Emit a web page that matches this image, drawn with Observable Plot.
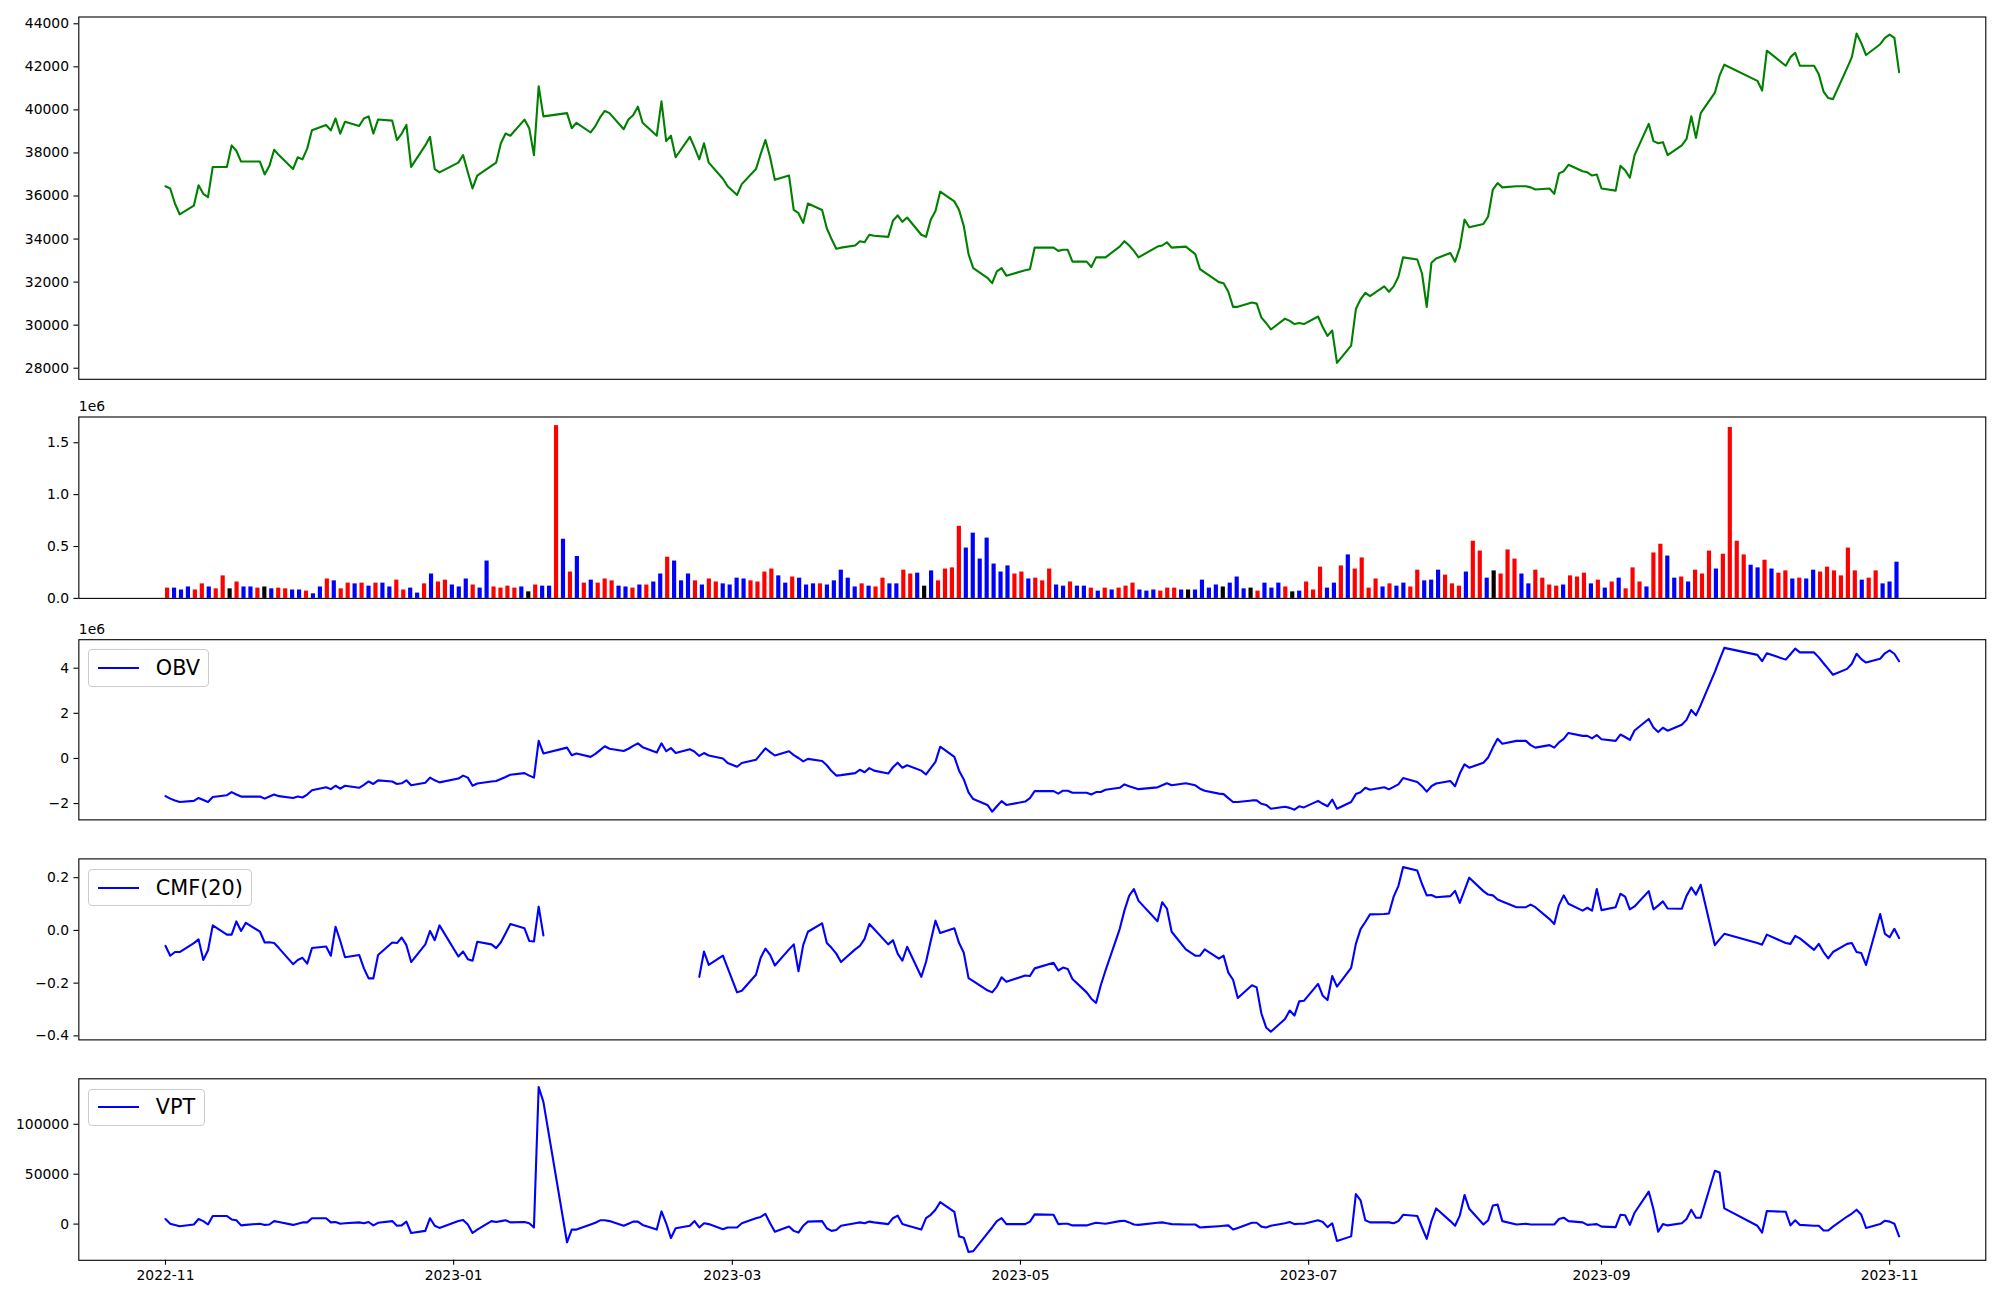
<!DOCTYPE html>
<html><head><meta charset="utf-8">
<script src="https://cdn.jsdelivr.net/npm/d3@7"></script>
<script src="https://cdn.jsdelivr.net/npm/@observablehq/plot@0.6"></script>
<style>
html,body{margin:0;padding:0;background:#fff;}
#fig{position:relative;width:2000px;height:1300px;background:#fff;font-family:"DejaVu Sans",sans-serif;}
.legend{position:absolute;left:88.3px;height:37.4px;box-sizing:border-box;border:1.1px solid #cccccc;border-radius:4px;background:rgba(255,255,255,0.8);display:flex;align-items:center;padding:0 8.3px;font-size:20.8px;color:#000;font-family:"DejaVu Sans",sans-serif;}
.legend svg{margin-right:16.6px;display:block;}
</style></head><body><div id="fig"></div>
<script>
// ---- trading days (x categories) ----
const tradingDays = (
"2022-11-01 2022-11-02 2022-11-03 2022-11-04 2022-11-07 2022-11-08 2022-11-09 2022-11-10 2022-11-11 2022-11-14 2022-11-15 2022-11-16 2022-11-17 2022-11-18 2022-11-21 2022-11-22 2022-11-23 2022-11-24 2022-11-25 2022-11-28 2022-11-29 2022-11-30 " +
"2022-12-01 2022-12-02 2022-12-05 2022-12-06 2022-12-07 2022-12-08 2022-12-09 2022-12-12 2022-12-13 2022-12-14 2022-12-15 2022-12-16 2022-12-19 2022-12-20 2022-12-21 2022-12-22 2022-12-23 2022-12-26 2022-12-27 2022-12-28 2022-12-29 " +
"2023-01-02 2023-01-03 2023-01-04 2023-01-05 2023-01-06 2023-01-09 2023-01-10 2023-01-11 2023-01-12 2023-01-13 2023-01-16 2023-01-17 2023-01-18 2023-01-19 2023-01-20 2023-01-25 2023-01-26 2023-01-27 2023-01-30 2023-01-31 " +
"2023-02-01 2023-02-02 2023-02-03 2023-02-06 2023-02-07 2023-02-08 2023-02-09 2023-02-10 2023-02-13 2023-02-14 2023-02-15 2023-02-16 2023-02-17 2023-02-20 2023-02-21 2023-02-22 2023-02-23 2023-02-24 2023-02-27 2023-02-28 " +
"2023-03-02 2023-03-03 2023-03-06 2023-03-07 2023-03-08 2023-03-09 2023-03-10 2023-03-13 2023-03-14 2023-03-15 2023-03-16 2023-03-17 2023-03-20 2023-03-21 2023-03-22 2023-03-23 2023-03-24 2023-03-27 2023-03-28 2023-03-29 2023-03-30 2023-03-31 " +
"2023-04-03 2023-04-04 2023-04-05 2023-04-06 2023-04-07 2023-04-10 2023-04-11 2023-04-12 2023-04-13 2023-04-14 2023-04-17 2023-04-18 2023-04-19 2023-04-20 2023-04-21 2023-04-24 2023-04-25 2023-04-26 2023-04-27 2023-04-28 " +
"2023-05-02 2023-05-03 2023-05-04 2023-05-08 2023-05-09 2023-05-10 2023-05-11 2023-05-12 2023-05-15 2023-05-16 2023-05-17 2023-05-18 2023-05-19 2023-05-22 2023-05-23 2023-05-24 2023-05-25 2023-05-26 2023-05-30 2023-05-31 " +
"2023-06-01 2023-06-02 2023-06-05 2023-06-07 2023-06-08 2023-06-09 2023-06-12 2023-06-13 2023-06-14 2023-06-15 2023-06-16 2023-06-19 2023-06-20 2023-06-21 2023-06-22 2023-06-23 2023-06-26 2023-06-27 2023-06-28 2023-06-29 2023-06-30 " +
"2023-07-03 2023-07-04 2023-07-05 2023-07-06 2023-07-07 2023-07-10 2023-07-11 2023-07-12 2023-07-13 2023-07-14 2023-07-17 2023-07-18 2023-07-19 2023-07-20 2023-07-21 2023-07-24 2023-07-25 2023-07-26 2023-07-27 2023-07-28 2023-07-31 " +
"2023-08-01 2023-08-02 2023-08-03 2023-08-04 2023-08-07 2023-08-08 2023-08-09 2023-08-10 2023-08-11 2023-08-14 2023-08-16 2023-08-17 2023-08-18 2023-08-21 2023-08-22 2023-08-23 2023-08-24 2023-08-25 2023-08-28 2023-08-29 2023-08-30 2023-08-31 " +
"2023-09-01 2023-09-04 2023-09-05 2023-09-06 2023-09-07 2023-09-08 2023-09-11 2023-09-12 2023-09-13 2023-09-14 2023-09-15 2023-09-18 2023-09-19 2023-09-20 2023-09-21 2023-09-22 2023-09-25 2023-09-26 2023-09-27 " +
"2023-10-04 2023-10-05 2023-10-06 2023-10-10 2023-10-11 2023-10-12 2023-10-13 2023-10-16 2023-10-17 2023-10-18 2023-10-19 2023-10-20 2023-10-23 2023-10-24 2023-10-25 2023-10-26 2023-10-27 2023-10-30 2023-10-31 " +
"2023-11-01 2023-11-02 2023-11-03").split(" ");

// ---- closing price ----
const closePrice = [
36450,36350,35650,35150,35550,36500,36100,35950,37350,37350,38350,38100,37600,37600,37600,37000,37400,38150,37900,37250,37800,37700,
38200,39050,39300,39050,39600,38900,39450,39250,39600,39700,38900,39550,39500,38600,38900,39300,37350,38350,38750,37250,37100,
37550,37900,37100,36350,36950,37400,37550,38450,38900,38800,39550,39150,37900,41100,39700,39850,39150,39400,38950,39250,
39650,39950,39850,39100,39550,39750,40150,39400,38800,40400,38550,38800,37800,38750,38250,37700,38450,37550,36800,36450,
36050,36550,37250,37950,38600,37800,36750,36950,35350,35200,34750,35650,35350,34500,34000,33550,33600,33700,33900,33850,34200,34150,
34100,34850,35100,34800,35000,34200,34100,34900,35300,36200,35750,35350,34600,33300,32650,32200,31950,32500,32650,32300,
32550,32600,33600,33600,33450,33500,33500,32950,32950,32700,33150,33150,33150,33650,33900,33700,33450,33150,33650,33700,
33850,33600,33650,33300,32600,32450,32000,31950,31550,30850,30850,31050,31000,30350,30100,29800,30300,30200,30050,30100,30050,
30400,29900,29500,29750,28250,29050,30750,31200,31500,31350,31800,31550,31800,32250,33150,33050,32400,30850,32900,33100,33350,
32950,33600,34900,34550,34700,35050,36300,36600,36400,36450,36450,36400,36300,36350,36100,37050,37150,37450,37150,37100,36950,37000,
36350,36250,37400,37200,36850,37900,39350,38550,38450,38500,37900,38350,38650,39700,38700,39850,40800,41600,42100,
41350,40900,42750,42050,42450,42650,42050,42050,41650,40850,40550,40500,41950,42450,43550,43100,42550,43050,43350,
43500,43350,41750];

// ---- volume (millions) and bar colour (r = up, b = down, k = unchanged) ----
const volumeM = [
0.099,0.099,0.081,0.11,0.081,0.14,0.11,0.092,0.217,0.092,
0.158,0.11,0.11,0.099,0.11,0.092,0.099,0.092,0.081,0.081,
0.07,0.044,0.11,0.187,0.169,0.092,0.147,0.14,0.147,0.118,
0.147,0.147,0.11,0.176,0.081,0.099,0.051,0.14,0.235,0.158,
0.176,0.129,0.11,0.187,0.129,0.099,0.36,0.11,0.099,0.118,
0.099,0.11,0.063,0.129,0.118,0.118,1.665,0.57,0.254,0.404,
0.147,0.176,0.147,0.187,0.169,0.118,0.11,0.099,0.129,0.129,
0.158,0.235,0.397,0.36,0.169,0.235,0.169,0.129,0.187,0.158,
0.14,0.129,0.195,0.187,0.169,0.158,0.254,0.283,0.217,0.147,
0.206,0.195,0.129,0.14,0.14,0.129,0.169,0.272,0.195,0.11,
0.14,0.118,0.11,0.195,0.14,0.14,0.272,0.235,0.243,0.118,
0.265,0.169,0.283,0.294,0.695,0.485,0.629,0.379,0.581,0.331,
0.254,0.313,0.235,0.254,0.187,0.195,0.169,0.283,0.129,0.118,
0.158,0.118,0.118,0.099,0.07,0.099,0.081,0.099,0.118,0.147,
0.081,0.07,0.081,0.07,0.099,0.099,0.081,0.081,0.081,0.176,
0.099,0.129,0.11,0.147,0.206,0.092,0.099,0.07,0.147,0.099,
0.147,0.11,0.063,0.07,0.158,0.081,0.301,0.099,0.147,0.313,
0.419,0.283,0.39,0.099,0.187,0.11,0.14,0.118,0.147,0.11,
0.272,0.169,0.176,0.272,0.224,0.14,0.118,0.254,0.551,0.456,
0.195,0.265,0.235,0.467,0.379,0.235,0.14,0.272,0.195,0.129,
0.118,0.129,0.217,0.206,0.243,0.14,0.176,0.099,0.158,0.195,
0.092,0.294,0.158,0.11,0.438,0.522,0.408,0.195,0.206,0.158,
0.272,0.235,0.456,0.283,0.426,1.647,0.551,0.419,0.32,0.294,
0.368,0.283,0.243,0.265,0.187,0.195,0.187,0.272,0.254,0.301,
0.265,0.217,0.485,0.265,0.176,0.195,0.265,0.14,0.158,0.349];
const barColor = (
"rbbbrrbrrk" + "rbbrkbrrbb" + "rbbrbrrbrb" + "rbbrrbbrbr" + "rbbbrbbrrr" +
"rbkrbbrbrb" + "rbrrrbbrbr" + "bbrbbbrbrr" + "bbbbrrrrbb" + "rbbbrbbbbb" +
"rbrrbbrrbk" + "brrrrbbbbb" + "bbrrbrrrbb" + "rbbrbrbrrr" + "bbbrrrbkbb" +
"bbkbbbkrbb" + "brkbrrrbbr" + "brrrrbrbbr" + "rbbbrrrbrr" + "bkrrrbbrrr" +
"rbrrrbrbrb" + "rrrbrrbbrb" + "rrrbrrrrbb" + "rbrrbrbbrr" + "rrrrbrrbbb").split("");
const barPalette = {r: "#ff0000", b: "#0000ff", k: "#000000"};

// ---- OBV (millions) ----
const obvM = [
-1.67,-1.78,-1.86,-1.93,-1.88,-1.75,-1.84,-1.93,-1.71,-1.63,-1.49,-1.60,-1.69,-1.69,-1.69,-1.78,-1.69,-1.60,-1.67,-1.75,-1.69,-1.73,
-1.60,-1.41,-1.28,-1.36,-1.21,-1.34,-1.21,-1.30,-1.17,-1.02,-1.13,-0.97,-1.02,-1.13,-1.10,-0.97,-1.19,-1.08,-0.85,-0.97,-1.06,
-0.89,-0.76,-0.85,-1.21,-1.11,-1.02,-1.00,-0.91,-0.82,-0.72,-0.65,-0.76,-0.85,0.78,0.22,0.48,0.14,0.22,0.07,0.20,
0.37,0.54,0.43,0.33,0.43,0.56,0.67,0.50,0.26,0.67,0.32,0.46,0.24,0.41,0.30,0.11,0.24,0.13,0.00,-0.20,
-0.37,-0.20,-0.06,0.19,0.45,0.28,0.13,0.32,0.15,0.02,-0.13,-0.02,-0.11,-0.30,-0.56,-0.76,-0.74,-0.65,-0.50,-0.61,-0.43,-0.54,
-0.67,-0.39,-0.19,-0.41,-0.30,-0.54,-0.71,-0.43,-0.15,0.52,0.07,-0.54,-0.93,-1.50,-1.80,-2.06,-2.36,-2.12,-1.89,-2.06,
-1.91,-1.76,-1.45,-1.45,-1.56,-1.43,-1.43,-1.52,-1.52,-1.60,-1.49,-1.49,-1.39,-1.30,-1.15,-1.23,-1.30,-1.36,-1.28,-1.19,
-1.10,-1.19,-1.10,-1.19,-1.34,-1.43,-1.56,-1.58,-1.76,-1.93,-1.93,-1.86,-1.86,-2.01,-2.06,-2.23,-2.14,-2.19,-2.27,-2.12,-2.17,
-1.88,-2.01,-2.12,-1.82,-2.23,-1.93,-1.58,-1.50,-1.30,-1.39,-1.28,-1.37,-1.26,-1.15,-0.87,-1.04,-1.23,-1.47,-1.23,-1.11,-1.00,
-1.23,-0.67,-0.26,-0.41,-0.19,0.04,0.48,0.87,0.65,0.78,0.78,0.59,0.48,0.59,0.48,0.71,0.87,1.13,1.00,1.00,0.89,1.04,
0.85,0.78,1.06,0.95,0.82,1.24,1.75,1.37,1.17,1.36,1.23,1.49,1.71,2.15,1.91,2.36,3.84,4.38,4.90,
4.59,4.31,4.66,4.38,4.62,4.87,4.70,4.70,4.48,4.22,3.97,3.71,3.97,4.20,4.64,4.40,4.25,4.42,4.66,
4.79,4.64,4.31];

// ---- CMF(20) (null = not drawn) ----
const cmf20 = [
-0.059,-0.096,-0.082,-0.082,-0.048,-0.034,-0.112,-0.075,0.019,-0.016,-0.016,0.034,-0.002,0.029,-0.005,-0.046,-0.045,-0.048,-0.067,-0.128,-0.112,-0.104,
-0.126,-0.067,-0.061,-0.096,0.014,-0.040,-0.102,-0.093,-0.144,-0.182,-0.182,-0.093,-0.046,-0.048,-0.027,-0.056,-0.120,-0.053,-0.002,-0.037,0.019,
-0.099,-0.080,-0.109,-0.115,-0.043,-0.053,-0.067,-0.045,-0.011,0.024,0.008,-0.040,-0.042,0.090,-0.019,null,null,null,null,null,
null,null,null,null,null,null,null,null,null,null,null,null,null,null,null,-0.176,-0.080,-0.131,-0.096,-0.142,
-0.235,-0.229,-0.168,-0.104,-0.069,-0.093,-0.133,-0.072,-0.053,-0.155,-0.056,-0.005,0.027,-0.048,-0.066,-0.088,-0.120,-0.072,-0.059,-0.032,0.024,0.005,
-0.053,-0.037,-0.088,-0.115,-0.062,-0.176,-0.120,-0.040,0.037,-0.010,0.008,-0.048,-0.085,-0.181,-0.192,-0.227,-0.235,-0.213,-0.178,-0.195,
-0.171,-0.173,-0.144,-0.123,-0.152,-0.141,-0.146,-0.184,-0.235,-0.259,-0.275,-0.208,-0.152,0.005,0.075,0.131,0.157,0.112,0.035,0.107,
0.083,-0.005,-0.072,-0.096,-0.096,-0.072,-0.107,-0.096,-0.160,-0.187,-0.256,-0.208,-0.216,-0.315,-0.368,-0.384,-0.336,-0.304,-0.323,-0.269,-0.267,
-0.203,-0.248,-0.264,-0.173,-0.213,-0.142,-0.051,0.005,0.032,0.061,0.062,0.064,0.128,0.168,0.240,0.227,0.176,0.133,0.134,0.126,0.130,
0.150,0.104,0.152,0.200,0.149,0.136,0.133,0.117,0.110,0.088,0.088,0.098,0.088,0.043,0.024,0.096,0.133,0.101,0.075,0.086,0.075,0.157,
0.077,0.088,0.139,0.128,0.080,0.091,0.149,0.080,0.094,0.110,0.083,0.082,0.131,0.163,0.136,0.173,-0.056,-0.034,-0.013,
-0.048,-0.054,-0.016,-0.048,-0.051,-0.021,-0.030,-0.074,-0.051,-0.082,-0.106,-0.082,-0.051,-0.048,-0.082,-0.086,-0.131,0.062,-0.013,
-0.026,0.006,-0.029];

// ---- VPT ----
const vpt = [
5100,400,-800,-2100,-400,5100,3000,-400,8100,8100,4700,3800,-1300,-800,400,-800,-400,3000,2100,-800,400,1700,
1700,5900,5900,1700,2100,400,800,1700,800,2100,-1300,1300,3000,-1700,-1300,2500,-8900,-6800,5900,-1700,-3800,
3000,4200,-400,-8900,-5500,3000,2100,3000,3800,1700,2100,800,-3400,137300,122400,-18200,-5500,-5500,-400,1300,
3800,3800,3000,-1700,400,2500,2500,-800,-5500,12700,800,-14000,-4200,-1700,3000,-3400,800,0,-5100,-3400,
-3400,800,5900,7200,10200,800,-7600,-2500,-6800,-8500,-1700,2500,3000,-4200,-6800,-5900,-1700,800,1700,800,2500,1700,
0,5900,8500,0,-1300,-5500,5900,9300,14400,22000,12300,-12300,-13600,-28000,-27100,-9300,-3400,3000,5900,0,
0,2500,9700,9300,0,400,400,-1300,-1300,0,1300,800,400,3000,3400,1700,-400,-800,1300,1700,
800,0,-400,-400,-3400,-3000,-2100,-1700,-1300,-5500,-3800,1300,1300,-2500,-3400,-1700,800,2100,0,400,400,
3800,2100,-3000,800,-16900,-12300,30100,23700,3800,1700,1700,1700,800,3000,9300,8100,-3400,-14800,3000,15700,3000,
-1700,8500,29200,15300,-400,3800,18600,19500,3000,-400,400,-400,-400,-400,-400,5100,6400,3000,1700,-800,-400,0,
-2500,-3000,9300,8900,-800,11400,32600,14800,-7600,0,-1300,800,5100,14400,6400,6400,53400,51700,15700,
-1700,-8500,13100,12300,-1300,3800,-800,-1700,-1700,-6400,-6400,-2500,7600,10600,14400,9300,-3800,0,3400,
2500,400,-12300];

// ---- tick values ----
const priceTicks = [28000,30000,32000,34000,36000,38000,40000,42000,44000];
const volumeTicks = [0, 0.5, 1.0, 1.5];
const obvTicks = [-2, 0, 2, 4];
const cmfTicks = [-0.4, -0.2, 0.0, 0.2];
const vptTicks = [0, 50000, 100000];
const dateTicks = ["2022-11-01","2023-01-01","2023-03-01","2023-05-01","2023-07-01","2023-09-01","2023-11-01"];

// ---------------------------------------------------------------
const fig = document.getElementById("fig");
const FONT = "'DejaVu Sans', sans-serif";
const ML = 78.3, MR = 14.7;
const dates = tradingDays.map(s => new Date(s + "T00:00:00Z"));
const rows = dates.map((d, i) => ({date: d, close: closePrice[i], obv: obvM[i], cmf: cmf20[i], vpt: vpt[i]}));
const t0 = +dates[0], t1 = +dates[dates.length - 1], tspan = t1 - t0;
const xDomain = [new Date(t0 - 0.05 * tspan), new Date(t1 + 0.05 * tspan)];
function padDomain(vals) {
  const v = vals.filter(d => d != null);
  const lo = d3.min(v), hi = d3.max(v), r = hi - lo;
  return [lo - 0.05 * r, hi + 0.05 * r];
}
const minus = s => s.replace("-", "\u2212");
function yAxis(ticks, fmt) {
  return Plot.axisY({ticks, tickFormat: fmt, tickSize: 4.9, tickPadding: 4.9, label: null, fontSize: 13.9, strokeWidth: 1.1});
}
const baseStyle = {fontFamily: FONT, fontSize: "13.9px", color: "#000", background: "transparent", overflow: "visible"};
function place(svg, top) {
  svg.style.position = "absolute"; svg.style.left = "0px"; svg.style.top = top + "px";
  fig.appendChild(svg);
}
const offsetLabel = Plot.text(["1e6"], {frameAnchor: "top-left", textAnchor: "start", lineAnchor: "middle", dy: -10, fontSize: 13.9, fill: "#000"});

// Panel 1: price
place(Plot.plot({
  width: 2000, height: 16.5 + 362.3 + 10, marginLeft: ML, marginRight: MR, marginTop: 16.5, marginBottom: 10,
  style: baseStyle,
  x: {type: "utc", domain: xDomain, axis: null},
  y: {domain: padDomain(closePrice), label: null},
  marks: [
    Plot.line(rows, {x: "date", y: "close", stroke: "#008000", strokeWidth: 2.1}),
    yAxis(priceTicks, d => String(d)),
    Plot.frame({stroke: "#000", strokeWidth: 1.1})
  ]
}), 0);

// Panel 2: volume bars (index based)
const N = volumeM.length, S = N - 1 + 0.6;
const idx = d3.range(N);
place(Plot.plot({
  width: 2000, height: 20.5 + 181.4 + 8, marginLeft: ML, marginRight: MR, marginTop: 20.5, marginBottom: 8,
  style: baseStyle,
  x: {type: "linear", domain: [-0.3 - 0.05 * S, N - 1 + 0.3 + 0.05 * S], axis: null},
  y: {domain: [0, d3.max(volumeM) * 1.05], label: null},
  color: {type: "identity"},
  marks: [
    Plot.rect(idx, {x1: i => i - 0.3, x2: i => i + 0.3, y1: 0, y2: i => volumeM[i], fill: i => barPalette[barColor[i]]}),
    yAxis(volumeTicks, d3.format(".1f")),
    offsetLabel,
    Plot.frame({stroke: "#000", strokeWidth: 1.1})
  ]
}), 396);

// Panel 3: OBV
place(Plot.plot({
  width: 2000, height: 20.2 + 180.2 + 8, marginLeft: ML, marginRight: MR, marginTop: 20.2, marginBottom: 8,
  style: baseStyle,
  x: {type: "utc", domain: xDomain, axis: null},
  y: {domain: padDomain(obvM), label: null},
  marks: [
    Plot.line(rows, {x: "date", y: "obv", stroke: "#0000ff", strokeWidth: 2.1}),
    yAxis(obvTicks, d => minus(String(d))),
    offsetLabel,
    Plot.frame({stroke: "#000", strokeWidth: 1.1})
  ]
}), 619);

// Panel 4: CMF(20)
place(Plot.plot({
  width: 2000, height: 20.4 + 181 + 8, marginLeft: ML, marginRight: MR, marginTop: 20.4, marginBottom: 8,
  style: baseStyle,
  x: {type: "utc", domain: xDomain, axis: null},
  y: {domain: padDomain(cmf20), label: null},
  marks: [
    Plot.line(rows, {x: "date", y: "cmf", stroke: "#0000ff", strokeWidth: 2.1}),
    yAxis(cmfTicks, d3.format(".1f")),
    Plot.frame({stroke: "#000", strokeWidth: 1.1})
  ]
}), 838);

// Panel 5: VPT with date axis
place(Plot.plot({
  width: 2000, height: 20.3 + 181.5 + 40, marginLeft: ML, marginRight: MR, marginTop: 20.3, marginBottom: 40,
  style: baseStyle,
  x: {type: "utc", domain: xDomain},
  y: {domain: padDomain(vpt), label: null},
  marks: [
    Plot.line(rows, {x: "date", y: "vpt", stroke: "#0000ff", strokeWidth: 2.1}),
    yAxis(vptTicks, d3.format("d")),
    Plot.axisX({ticks: dateTicks.map(s => new Date(s + "T00:00:00Z")), tickFormat: d3.utcFormat("%Y-%m"), tickSize: 4.9, tickPadding: 4.9, label: null, fontSize: 13.9, strokeWidth: 1.1}),
    Plot.frame({stroke: "#000", strokeWidth: 1.1})
  ]
}), 1058);

// Legends
function legend(label, top) {
  const d = document.createElement("div");
  d.className = "legend";
  d.style.top = top + "px";
  d.innerHTML = '<svg width="41.6" height="6"><line x1="0" x2="41.6" y1="3" y2="3" stroke="#0000ff" stroke-width="2.1"/></svg><span></span>';
  d.querySelector("span").textContent = label;
  fig.appendChild(d);
}
legend("OBV", 649.3);
legend("CMF(20)", 869);
legend("VPT", 1088.8);
</script>
</body></html>
